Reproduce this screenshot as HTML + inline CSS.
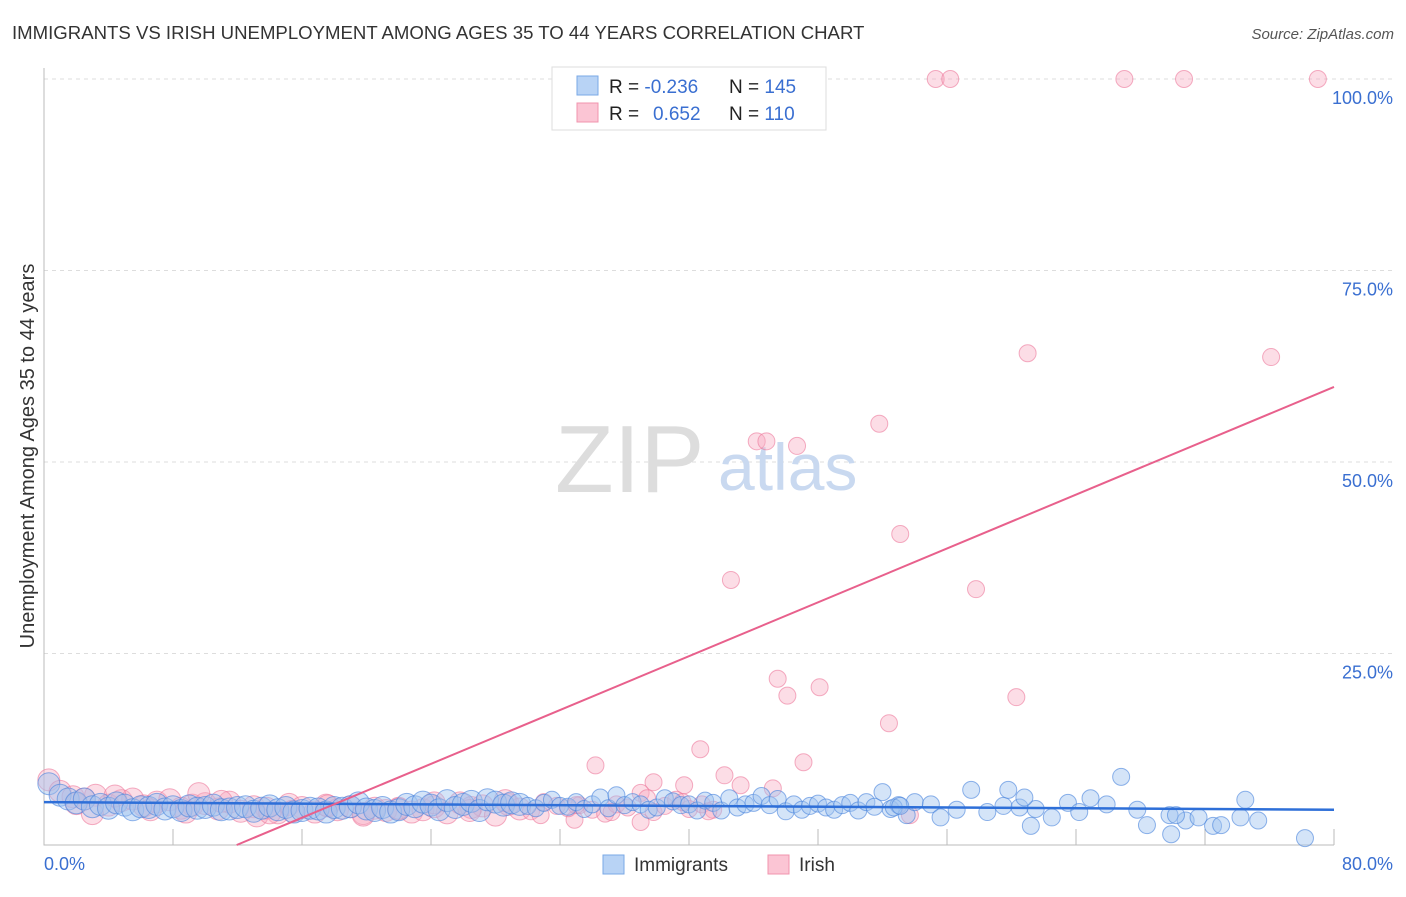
<!DOCTYPE html>
<html><head><meta charset="utf-8"><style>
body{margin:0;background:#fff;font-family:"Liberation Sans",sans-serif;}
svg text{font-family:"Liberation Sans",sans-serif;}
</style></head><body>
<svg id="chart" width="1406" height="892">
<text x="12" y="39" font-size="18.6" fill="#333">IMMIGRANTS VS IRISH UNEMPLOYMENT AMONG AGES 35 TO 44 YEARS CORRELATION CHART</text>
<text x="1394" y="39" font-size="15" fill="#555" font-style="italic" text-anchor="end">Source: ZipAtlas.com</text>
<text transform="translate(34,456) rotate(-90)" font-size="20" fill="#333" text-anchor="middle">Unemployment Among Ages 35 to 44 years</text>
<g id="grid"></g>
<text x="555" y="492" font-size="96" fill="#ddd" font-family="Liberation Serif">ZIP</text>
<text x="718" y="490" font-size="66" fill="#c9d9f0">atlas</text>
<g id="marks"></g>
<g>
<rect x="552" y="67" width="274" height="63" fill="#fff" stroke="#ddd"/>
<rect x="577" y="76" width="21" height="19" fill="#b8d3f5" stroke="#7aa8e6"/>
<rect x="577" y="103" width="21" height="19" fill="#fbc5d4" stroke="#f094ae"/>
<text x="609" y="93" font-size="19" fill="#222">R = <tspan fill="#3a6fd1">-0.236</tspan><tspan x="729">N = </tspan><tspan fill="#3a6fd1">145</tspan></text>
<text x="609" y="120" font-size="19" fill="#222">R = <tspan x="653" fill="#3a6fd1">0.652</tspan><tspan x="729">N = </tspan><tspan fill="#3a6fd1">110</tspan></text>
</g>
<g>
<rect x="603" y="855" width="21" height="19" fill="#b8d3f5" stroke="#7aa8e6"/>
<text x="634" y="871" font-size="19" fill="#333">Immigrants</text>
<rect x="768" y="855" width="21" height="19" fill="#fbc5d4" stroke="#f094ae"/>
<text x="799" y="871" font-size="19" fill="#333">Irish</text>
</g>
</svg>
<script>
const xTicks=[0,80];
const yTicks=[25,50,75,100];
const blueX=[0.3,1,1.5,2,2.5,3,3.5,4,4.5,5,5.5,6,6.5,7,7.5,8,8.5,9,9.5,10,10.5,11,11.5,12,12.5,13,13.5,14,14.5,15,15.5,16,16.5,17,17.5,18,18.5,19,19.5,20,20.5,21,21.5,22,22.5,23,23.5,24,24.5,25,25.5,26,26.5,27,27.5,28,28.5,29,29.5,30,30.5,31,31.5,32,32.5,33,33.5,34,34.5,35,35.5,36,36.5,37,37.5,38,38.5,39,39.5,40,40.5,41,41.5,42,42.5,43,43.5,44,44.5,45,45.5,46,46.5,47,47.5,48,48.5,49,49.5,50,50.5,51,51.5,52,52.5,53,53.5,54,55,55.6,56.6,57.5,58.5,59.5,60.5,61.5,62.5,63.5,64.2,64.9,65.9,66.8,68.4,69.9,70.8,71.6,72.5,73,74.2,74.5,75.3,78.2,52.7,53.1,59.8,61.2,67.8,69.8,60.8,70.2];
const blueY=[8,6.5,6,5.5,6,5,5.3,4.8,5.5,5.2,4.6,5,4.9,5.3,4.7,5,4.5,5.1,4.8,4.9,5.2,4.6,4.7,4.9,5,4.4,4.8,5.1,4.6,4.9,4.3,4.5,4.8,4.7,4.3,4.9,4.8,5,5.5,4.7,4.5,4.9,4.3,4.6,5.3,5,5.6,5.2,4.6,5.8,4.9,5.3,5.7,4.5,5.9,5.6,5.2,5.5,5.3,5.1,4.8,5.5,5.9,5.1,5,5.6,4.7,5.3,6.2,4.8,6.5,5.2,5.6,5.3,4.6,4.9,6.1,5.7,5.2,5.3,4.5,5.8,5.5,4.5,6.1,4.9,5.3,5.5,6.4,5.2,6,4.4,5.3,4.6,5.1,5.4,4.9,4.6,5.2,5.5,4.5,5.6,5,6.9,4.7,5.2,3.9,5.6,5.3,3.6,4.6,7.2,4.3,5.1,4.9,4.7,3.6,5.5,4.3,6.1,5.3,8.9,2.6,1.4,3.2,3.6,2.5,2.6,3.6,5.9,3.2,0.9,4.9,5.1,7.2,2.5,4.6,3.9,6.2,3.9,3.5,4.5];
const pinkX=[55.3,56.2,67,70.7,79,61,76.1,51.8,44.2,44.8,46.7,53.1,42.6,57.8,45.5,48.1,46.1,60.3,52.4,40.7,47.1,34.2,42.2,43.2,39.7,37.8,45.2,53.7,32.9,37,0.3,1,1.8,2.5,3.2,4,4.8,5.5,6.2,7,7.8,8.5,9.2,10,10.8,11.5,12.2,13,13.8,14.5,15.2,16,16.8,17.5,18.2,19,19.8,20.5,21.2,22,22.8,23.5,24.2,25,25.8,26.5,27.2,28,28.8,29.5,30.2,31,31.8,32.5,33.2,34,34.8,35.5,36.2,37,37.8,38.5,39.2,40,40.8,41.5,2,4.4,6.6,8.8,11,13.2,15.4,17.6,19.8,22,24.2,26.4,28.6,30.8,33,35.2,37.4,39.6,41.2,3,9.6,14];
const pinkY=[100,100,100,100,100,64.2,63.7,55,52.7,52.7,52.1,40.6,34.6,33.4,21.7,20.6,19.5,19.3,15.9,12.5,10.8,10.4,9.1,7.8,7.8,8.2,7.4,3.9,3.3,3,8.5,7,6.3,6,6.5,5.2,5.8,6,5.1,5.6,5.9,4.8,5.2,5.4,4.7,5.6,4.4,5,4.8,4.2,5.3,4.9,4.3,5.2,4.6,5,4.1,4.8,4.5,4.7,4.3,4.6,5,4.2,5.5,4.9,5.1,3.9,5.3,4.7,4.4,5.6,5.1,4.8,5.2,4.6,4.1,5.3,4.9,6.8,4.3,5.1,5.9,4.7,5.3,4.6,5.4,6.4,4.6,4.3,5.7,3.8,4.4,5.1,3.9,4.8,5.5,4.5,5.8,3.9,5.2,4.3,6.1,5.6,4.4,4.1,6.7,4.2,5.9];
const blueLine=[5.6,4.6];
const pinkLine=[-10.5,59.8];
const X0=44,X1=1334,Y0=845,Y100=79;
function sx(v){return X0+(X1-X0)*v/80;}
function sy(v){return Y0-(Y0-Y100)*v/100;}
const NS='http://www.w3.org/2000/svg';
function mk(t,a,p){const e=document.createElementNS(NS,t);for(const k in a)e.setAttribute(k,a[k]);p.appendChild(e);return e;}
const grid=document.getElementById('grid');
yTicks.forEach(v=>{const l=mk('line',{x1:X0,x2:1394,y1:sy(v),y2:sy(v),stroke:'#ddd','stroke-dasharray':'4,4'},grid);


const t=mk('text',{x:1393,y:sy(v)+25,'font-size':18,fill:'#3a6fd1','text-anchor':'end'},grid);t.textContent=v.toFixed(1)+'%';

});
const ax=mk('path',{d:`M${X0} 68V${Y0}H${X1}`,stroke:'#bbb',fill:'none'},grid);


for(let i=1;i<=10;i++){const tk=mk('line',{x1:sx(i*8),x2:sx(i*8),y1:Y0,y2:Y0-16,stroke:'#bbb'},grid);

}
xTicks.forEach((v,i)=>{const t=mk('text',{x:i?1393:44,y:870,'font-size':18,fill:'#3a6fd1','text-anchor':i?'end':'start'},grid);t.textContent=v.toFixed(1)+'%';

});
const g=document.getElementById('marks');
pinkX.forEach((x,i)=>{const r=x<30?11:8.5;const c=mk('circle',{cx:sx(x),cy:sy(pinkY[i]),r:r,fill:'rgba(248,170,192,0.4)',stroke:'rgba(236,120,155,0.6)'},g);

});
blueX.forEach((x,i)=>{const r=x<30?11:8.5;const c=mk('circle',{cx:sx(x),cy:sy(blueY[i]),r:r,fill:'rgba(160,196,240,0.45)',stroke:'rgba(70,130,220,0.6)'},g);

});
const bl=mk('line',{x1:sx(0),y1:sy(blueLine[0]),x2:sx(80),y2:sy(blueLine[1]),stroke:'#2e6fd8','stroke-width':2.5},g);


const xs=-pinkLine[0]/((pinkLine[1]-pinkLine[0])/80);
const pl=mk('line',{x1:sx(xs),y1:sy(0),x2:sx(80),y2:sy(pinkLine[1]),stroke:'#e8608c','stroke-width':2},g);


</script>
</body></html>
